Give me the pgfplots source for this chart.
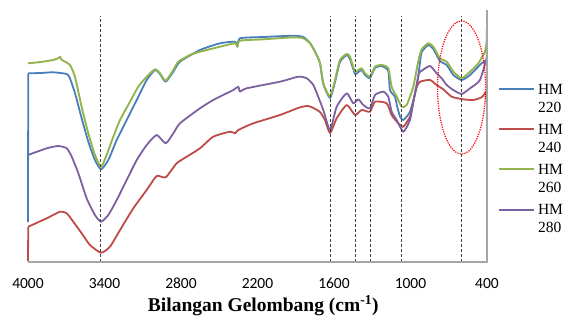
\documentclass[border=0pt]{standalone}
\usepackage{pgfplots}
\pgfplotsset{compat=1.18}
\usepackage{fontspec}
\setmainfont{Liberation Serif}
\newfontfamily\tickfont{Carlito}
\usetikzlibrary{calc}
\definecolor{cBlue}{RGB}{74,126,187}
\definecolor{cRed}{RGB}{190,75,72}
\definecolor{cGreen}{RGB}{146,180,78}
\definecolor{cPurple}{RGB}{125,96,160}
\definecolor{axgray}{RGB}{166,166,166}
\pgfplotsset{
  spec/.style={smooth, tension=0.35, line join=round},
  spike/.style={forget plot, line join=round},
  refline/.style={forget plot, black!75, line width=0.8bp, dash pattern=on 3bp off 2bp},
}
\begin{document}
\begin{tikzpicture}
\begin{axis}[
  scale only axis, width=459bp, height=252bp,
  x dir=reverse, xmin=400, xmax=4000, ymin=0, ymax=252,
  enlargelimits=false, clip=false,
  axis line style={draw=none},
  xtick={4000,3400,2800,2200,1600,1000,400},
  xticklabels={4000,3400,2800,2200,1600,1000,400},
  xtick style={draw=none}, ytick=\empty,
  xticklabel style={font=\tickfont\fontsize{15.5bp}{18bp}\selectfont, anchor=base, yshift=-26.5bp},
  xlabel={\bfseries Bilangan Gelombang (cm\textsuperscript{-1})},
  xlabel style={font=\fontsize{19.5bp}{22bp}\selectfont, at={(axis description cs:0.5126,0)}, anchor=base, yshift=-49.7bp},
  legend style={draw=none, fill=none, inner sep=0pt, outer sep=0pt,
    at={(axis description cs:1.024,0.7063)}, anchor=north west,
    row sep=30.2bp, font=\fontsize{15.5bp}{18bp}\selectfont,
    nodes={inner sep=0pt, text height=10bp, text depth=0bp},
    /tikz/every odd column/.style={column sep=3bp}},
  legend cell align=left,
  legend image code/.code={\draw[#1, line width=2bp] (0bp,0bp) -- (35bp,0bp);},
]
% HM 220
\addplot[spec, draw=cBlue, line width=1.8bp] coordinates {
(3998,188.7) (3900,189) (3802,189.7) (3696,188) (3671,183.7) (3631,168.7)
(3579,143.7) (3527,120.3) (3475,102) (3427,92.7) (3370,102) (3304,122) (3226,142)
(3147,162) (3069,182) (3004,192) (2965,188) (2920,180.3) (2860,190.3) (2808,200.3)
(2651,212) (2494,218.7) (2376,220.3) (2358,215.3) (2337,223.7) (2155,225) (1919,226.3)
(1841,225) (1788,219) (1749,210.5) (1710,199) (1684,178) (1631,164) (1592,180)
(1553,200) (1500,207) (1475,203) (1435,188) (1409,190) (1383,192) (1357,187)
(1318,184) (1278,194) (1226,196) (1174,191) (1161,172) (1122,165.3) (1104,155.3)
(1082,145.3) (1056,142) (1004,150.3) (951,175.3) (925,200) (912,210) (860,217)
(821,213) (769,201) (716,197) (664,187) (599,182) (533,187) (442,198.7) (402,202)
};
\addlegendentry{\rlap{\smash{\raisebox{-18bp}{220}}}HM}
% HM 240
\addplot[spec, draw=cRed, line width=1.8bp] coordinates {
(3998,35.3) (3853,43.7) (3749,50.3) (3696,48.7) (3645,40.3) (3579,28.7)
(3514,17) (3427,9.3) (3357,15.3) (3278,32) (3174,53.7) (3069,72) (2991,86)
(2920,84.7) (2834,98.7) (2755,105.3) (2651,113.7) (2547,125.3) (2416,130.3)
(2376,128.7) (2351,132) (2233,138.7) (2024,147) (1867,154.7) (1802,156) (1762,154)
(1710,150) (1671,142) (1631,129) (1579,143.7) (1500,157) (1435,147) (1383,152)
(1318,150.3) (1278,160.3) (1187,158.7) (1148,147) (1096,138.7) (1056,135.3)
(1004,145.3) (978,160) (955,174) (925,180.3) (847,182) (795,177) (743,172.7)
(677,165.3) (586,162.7) (508,162) (442,164.7) (408,170.3)
};
\addlegendentry{\rlap{\smash{\raisebox{-18bp}{240}}}HM}
% HM 260
\addplot[spec, draw=cGreen, line width=1.9bp] coordinates {
(4000,198.7) (3900,200) (3802,202) (3760,204) (3749,205.3) (3735,202) (3723,201.3)
(3671,197) (3631,185) (3579,155) (3527,128.7) (3475,107) (3427,95.3) (3383,107)
(3331,125.3) (3278,142) (3200,160.3) (3135,175.3) (3069,185.3) (3004,192.7)
(2965,188.7) (2920,181.3) (2860,192) (2821,200.3) (2729,207) (2651,210.3)
(2494,215.3) (2376,218.7) (2358,215.3) (2337,221.3) (2155,222.7) (1919,224.7)
(1841,223.7) (1788,218.7) (1749,210.3) (1710,199) (1684,178.7) (1631,165.3)
(1592,182) (1553,202) (1500,208) (1475,205.3) (1435,190.3) (1409,192) (1383,193.7)
(1357,188.7) (1318,185.3) (1278,195.3) (1226,197) (1174,193.7) (1148,175.3)
(1108,165.3) (1069,155.3) (1030,157) (978,175.3) (940,200) (912,212.7) (860,218.7)
(821,215.3) (769,203.7) (716,200.3) (664,190.3) (599,183.7) (533,190.3) (468,198.7)
(416,210.3) (400,222)
};
\addlegendentry{\rlap{\smash{\raisebox{-18bp}{260}}}HM}
% HM 280
\addplot[spec, draw=cPurple, line width=1.8bp] coordinates {
(4000,107) (3853,113.7) (3762,116) (3696,113.7) (3657,105.3) (3605,88.7) (3540,63.7)
(3475,47) (3427,40.3) (3370,47) (3304,62) (3226,82) (3147,102) (3069,117) (2991,127)
(2920,118.7) (2860,128.7) (2808,138.7) (2651,153.7) (2547,162) (2390,172) (2351,175.3)
(2337,170.3) (2285,173.7) (2024,180.3) (1880,185.3) (1814,183.7) (1762,177) (1723,165)
(1684,152) (1631,132) (1579,155.3) (1500,168.7) (1449,158.7) (1409,162.7) (1370,157)
(1318,153.7) (1278,167) (1213,170.3) (1174,165.3) (1148,150.3) (1108,142) (1056,130.3)
(1004,142) (978,160) (935,188) (912,191.3) (847,196) (795,188.7) (755,183.7) (716,177)
(664,172) (599,168) (533,173.7) (455,182) (400,205.3)
};
\addlegendentry{\rlap{\smash{\raisebox{-18bp}{280}}}HM}
% first and last points of the blue and red series
\addplot[spike, draw=cBlue, line width=1.8bp] coordinates {(4000,40) (3998,188.7)};
\addplot[spike, draw=cBlue, line width=1.8bp] coordinates {(402,202) (400,251)};
\addplot[spike, draw=cRed, line width=1.8bp] coordinates {(4000,1) (3998,35.3)};
\addplot[spike, draw=cRed, line width=1.8bp] coordinates {(408,170.3) (400,153.7)};
% dashed reference lines
\addplot[refline] coordinates {(3430,0) (3430,246)};
\addplot[refline] coordinates {(1631,0) (1631,246)};
\addplot[refline] coordinates {(1435,0) (1435,246)};
\addplot[refline] coordinates {(1318,0) (1318,246)};
\addplot[refline] coordinates {(1069,0) (1069,246)};
\addplot[refline] coordinates {(599,0) (599,246)};
% axis lines
\draw[axgray, line width=1.2bp] (axis cs:4000,0) -- (axis cs:400,0) -- (axis cs:400,252);
% ellipse
\draw[red, line width=1.2bp, dash pattern=on 1.2bp off 1.2bp] (axis cs:599.5,174.5) ellipse [x radius=24bp, y radius=66.5bp];
\end{axis}
\path ($(current axis.south west)+(-28bp,-54bp)$) rectangle ($(current axis.north east)+(81bp,10bp)$);
\end{tikzpicture}
\end{document}
